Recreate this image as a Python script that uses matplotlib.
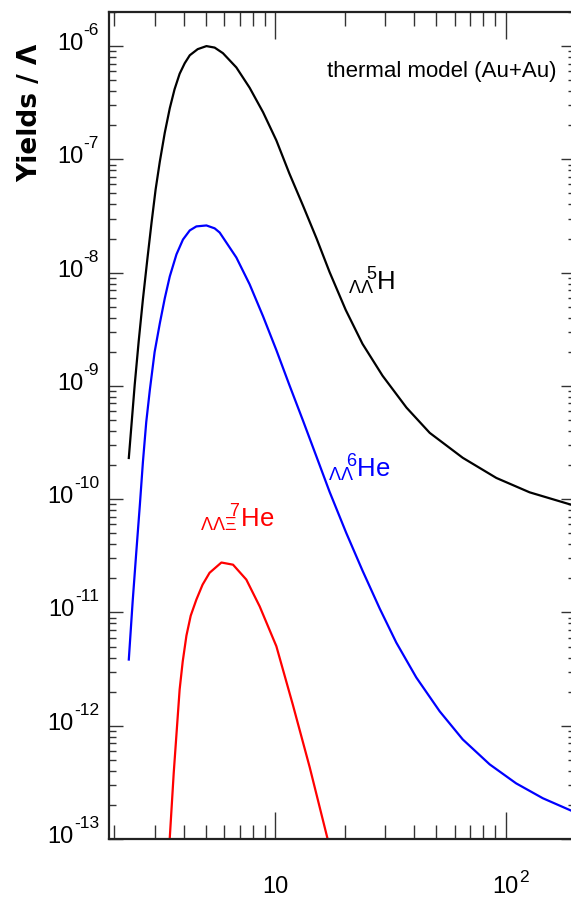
import numpy as np
import matplotlib
matplotlib.use("Agg")
import matplotlib.pyplot as plt
from matplotlib.ticker import LogLocator, NullFormatter

plt.rcParams['font.family'] = ['Liberation Sans', 'DejaVu Sans']
plt.rcParams['mathtext.fontset'] = 'custom'
plt.rcParams['mathtext.rm'] = 'Liberation Sans'
plt.rcParams['mathtext.it'] = 'Liberation Sans:italic'
plt.rcParams['mathtext.bf'] = 'Liberation Sans:bold'

# collision energy (GeV) and yields per Lambda
energy_llh = [2.31, 2.45, 2.55, 2.66, 2.78, 2.90, 3.02, 3.15, 3.31, 3.48, 3.65, 3.84, 4.04,
              4.25, 4.6, 5.02, 5.45, 5.92, 6.77, 7.73, 8.84, 10.1, 11.5, 13.2, 15.1, 17.2,
              20.2, 23.9, 29.2, 37.1, 46.8, 65.1, 91.1, 127, 200]
yield_llh = [2.31e-10, 1.02e-9, 2.48e-9, 5.82e-9, 1.31e-8, 2.77e-8, 5.42e-8, 9.57e-8, 1.72e-7,
             2.83e-7, 4.16e-7, 5.70e-7, 7.06e-7, 8.30e-7, 9.4e-7, 1.0e-6, 9.7e-7, 8.66e-7,
             6.48e-7, 4.29e-7, 2.61e-7, 1.47e-7, 7.51e-8, 3.88e-8, 2.0e-8, 1.01e-8, 4.69e-9,
             2.35e-9, 1.23e-9, 6.43e-10, 3.85e-10, 2.32e-10, 1.54e-10, 1.15e-10, 8.73e-11]

energy_llhe = [2.31, 2.40, 2.49, 2.58, 2.66, 2.75, 2.85, 2.99, 3.15, 3.31, 3.48, 3.72, 3.97,
               4.25, 4.54, 5.02, 5.45, 5.73, 6.77, 7.73, 8.84, 10.1, 11.5, 13.2, 15.1, 17.2,
               20.3, 23.9, 28.4, 33.5, 40.9, 51.7, 65.1, 85.2, 111, 145, 200]
yield_llhe = [3.84e-12, 1.24e-11, 3.43e-11, 8.91e-11, 2.13e-10, 4.80e-10, 9.18e-10, 1.99e-9,
              3.57e-9, 5.94e-9, 9.27e-9, 1.45e-8, 1.96e-8, 2.36e-8, 2.56e-8, 2.61e-8,
              2.46e-8, 2.26e-8, 1.36e-8, 7.89e-9, 4.12e-9, 2.07e-9, 1.02e-9, 4.90e-10,
              2.36e-10, 1.16e-10, 5.05e-11, 2.34e-11, 1.08e-11, 5.42e-12, 2.67e-12,
              1.34e-12, 7.57e-13, 4.56e-13, 3.10e-13, 2.29e-13, 1.72e-13]

energy_llxhe = [3.37, 3.48, 3.62, 3.84, 3.96, 4.11, 4.29, 4.54, 4.83, 5.18, 5.83, 6.55, 7.48,
                8.55, 10.1, 11.9, 14.1, 16.8, 18.1]
yield_llxhe = [4.3e-14, 1.03e-13, 3.85e-13, 2.09e-12, 3.69e-12, 6.25e-12, 9.37e-12, 1.30e-11,
               1.76e-11, 2.24e-11, 2.76e-11, 2.64e-11, 1.95e-11, 1.13e-11, 5.03e-12, 1.54e-12,
               4.29e-13, 1.03e-13, 5.9e-14]

y_exponents = list(range(-13, -5))
x_tick_values = [10, 100]
x_tick_exponents = ['', '2']

fig = plt.figure(figsize=(5.71, 9.07), dpi=100)
ax = fig.add_axes([109 / 571, 68 / 907, 466 / 571, 827 / 907])

ax.plot(energy_llh, yield_llh, color='black', lw=1.6)
ax.plot(energy_llhe, yield_llhe, color='#0000ff', lw=1.6)
ax.plot(energy_llxhe, yield_llxhe, color='#ff0000', lw=1.6)

ax.set_xscale('log')
ax.set_yscale('log')
ax.xaxis.set_major_locator(LogLocator(base=10, numticks=10))
ax.xaxis.set_minor_locator(LogLocator(base=10, subs=np.arange(2, 10), numticks=10))
ax.yaxis.set_major_locator(LogLocator(base=10, numticks=20))
ax.yaxis.set_minor_locator(LogLocator(base=10, subs=np.arange(2, 10), numticks=20))
ax.xaxis.set_minor_formatter(NullFormatter())
ax.yaxis.set_minor_formatter(NullFormatter())
ax.set_xlim(1.895, 200)
ax.set_ylim(1e-13, 2e-6)

ax.tick_params(which='both', direction='in', top=True, right=True,
               labelbottom=False, labelleft=False, color='#333333', width=1)
ax.tick_params(axis='x', which='major', length=19.5)
ax.tick_params(axis='x', which='minor', length=10)
ax.tick_params(axis='y', which='major', length=10)
ax.tick_params(axis='y', which='minor', length=5)
for sp in ax.spines.values():
    sp.set_linewidth(1.6)
    sp.set_color('#222222')

# ROOT style labels: 10 with the exponent sitting above it
for k in y_exponents:
    ex = ax.annotate(str(k), xy=(0, 10.0 ** k), xycoords=ax.get_yaxis_transform(),
                     xytext=(-10, 8), textcoords='offset pixels',
                     ha='right', va='bottom', fontsize=12.5)
    ax.annotate('10', xy=(0, 0), xycoords=ex, xytext=(0, 5), textcoords='offset pixels',
                ha='right', va='top', fontsize=17)

for val, e in zip(x_tick_values, x_tick_exponents):
    ten = ax.annotate('10', xy=(val, 0), xycoords=ax.get_xaxis_transform(),
                      xytext=(0, -37), textcoords='offset pixels',
                      ha='center', va='top', fontsize=17)
    if e:
        ax.annotate(e, xy=(1, 1), xycoords=ten, xytext=(0, -1), textcoords='offset pixels',
                    ha='left', va='center', fontsize=12.5)

fig.text(30 / 571, 1 - 113 / 907, 'Yields / Λ', rotation=90, ha='center', va='center',
         fontsize=19, fontweight='bold', family=['DejaVu Sans'])

ax.text(0.468, 0.921, 'thermal model (Au+Au)', transform=ax.transAxes,
        ha='left', va='baseline', fontsize=16)

ax.text(20.6, 7.0e-9, r'${}_{\Lambda\Lambda}\!\!{}^{5}$H', color='black',
        ha='left', va='baseline', fontsize=18.5)
ax.text(16.9, 1.57e-10, r'${}_{\Lambda\Lambda}\!\!{}^{6}$He', color='#0000ff',
        ha='left', va='baseline', fontsize=18.5)
ax.text(4.69, 5.6e-11, r'${}_{\Lambda\Lambda\Xi}\!\!{}^{7}$He', color='#ff0000',
        ha='left', va='baseline', fontsize=18.5)

fig.savefig('out.png', dpi=100)
